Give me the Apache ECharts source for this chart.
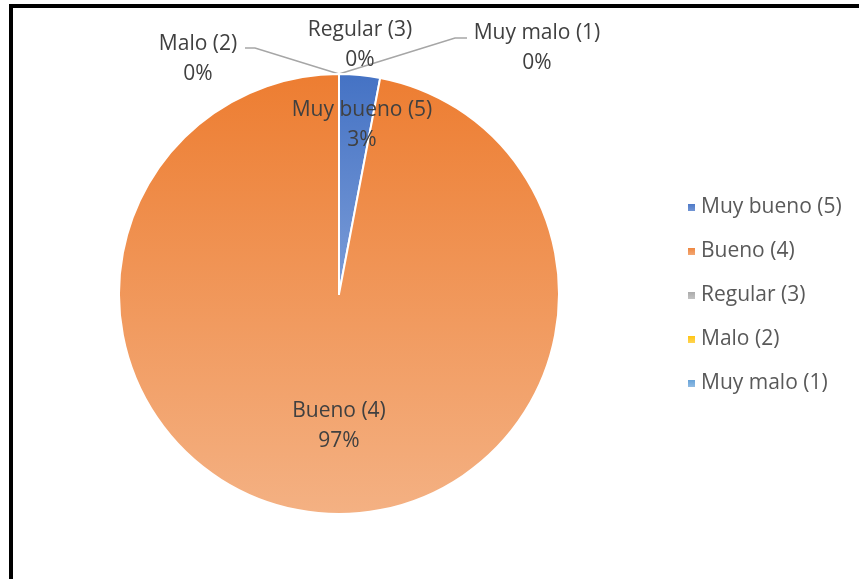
<!DOCTYPE html>
<html>
<head>
<meta charset="utf-8">
<script src="https://cdn.jsdelivr.net/npm/echarts@6/dist/echarts.min.js"></script>
<style>
    html, body {margin: 0; padding: 0; background: #fff;}
    #chart {width: 859px; height: 579px;}
</style>
</head>
<body>
<div id="chart"></div>
<script>
var categories = ['Muy bueno (5)', 'Bueno (4)', 'Regular (3)', 'Malo (2)', 'Muy malo (1)'];
var values = [3, 97, 0, 0, 0];      // porcentaje
var colorsTop = ['#4472C4', '#ED7D31', '#A5A5A5', '#FFC000', '#5B9BD5'];
var colorsBottom = ['#7C9DD8', '#F4B183', '#C9C9C9', '#FFD966', '#9DC3E6'];

var cx = 339, cy = 294, r = 220;
var font = 'Open Sans';

// posiciones de etiquetas (centro del texto) y lineas guia
var labelPos = {
    'Muy bueno (5)': {x: cx + 23, y: cy - 169},
    'Bueno (4)': {x: cx, y: cy + 132},
    'Regular (3)': {x: cx + 21, y: 45},
    'Malo (2)': {x: 198, y: 59, line: [[cx, cy - r], [255, 48], [245, 48]]},
    'Muy malo (1)': {x: 537, y: 48, line: [[cx, cy - r], [455, 38], [467, 38]]}
};

var pieData = [];
var legendData = [];
categories.forEach(function (name, i) {
    var grad = new echarts.graphic.LinearGradient(0, 0, 0, 1, [
        {offset: 0, color: colorsTop[i]},
        {offset: 1, color: colorsBottom[i]}
    ]);
    pieData.push({
        name: name,
        value: values[i],
        itemStyle: {color: grad},
        label: {position: values[i] > 0 ? 'inside' : 'outside'},
        labelLine: {show: !!labelPos[name].line}
    });
    legendData.push({name: name, itemStyle: {color: grad}});
});

var myChart = echarts.init(document.getElementById('chart'));
myChart.setOption({
    animation: false,
    legend: {
        orient: 'vertical',
        left: 681,
        top: 189,
        itemWidth: 9,
        itemHeight: 9,
        itemGap: 17,
        icon: 'rect',
        data: legendData,
        textStyle: {fontFamily: font, fontSize: 21, lineHeight: 27, color: '#595959'}
    },
    graphic: [
        {type: 'line', shape: {x1: 9, y1: 6, x2: 859, y2: 6}, style: {stroke: '#000', lineWidth: 4}},
        {type: 'line', shape: {x1: 11, y1: 4, x2: 11, y2: 579}, style: {stroke: '#000', lineWidth: 4}}
    ],
    series: [
        {
            type: 'pie',
            center: [cx, cy],
            radius: r,
            startAngle: 90,
            clockwise: true,
            percentPrecision: 0,
            avoidLabelOverlap: false,
            data: pieData,
            itemStyle: {borderColor: '#fff', borderWidth: 2},
            label: {
                formatter: '{b}\n{d}%',
                fontFamily: font,
                fontSize: 21,
                lineHeight: 30,
                color: '#404040',
                align: 'center'
            },
            labelLine: {lineStyle: {color: '#A6A6A6', width: 1.5}},
            labelLayout: function (params) {
                var p = labelPos[categories[params.dataIndex]];
                var res = {
                    x: p.x,
                    y: p.y,
                    align: 'center',
                    verticalAlign: 'middle'
                };
                if (p.line) {
                    res.labelLinePoints = p.line;
                }
                return res;
            }
        }
    ]
});
</script>
</body>
</html>
